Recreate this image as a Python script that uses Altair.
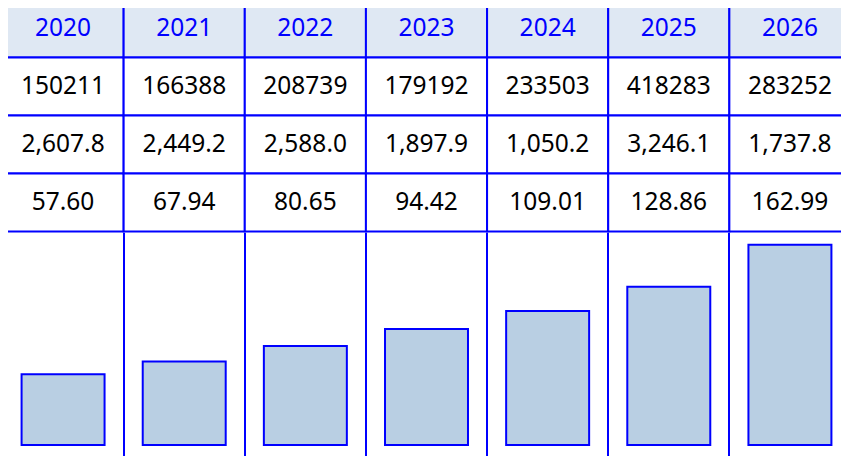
import altair as alt
import pandas as pd

years = ["2020", "2021", "2022", "2023", "2024", "2025", "2026"]
counts = [150211, 166388, 208739, 179192, 233503, 418283, 283252]
amounts = [2607.8, 2449.2, 2588.0, 1897.9, 1050.2, 3246.1, 1737.8]
prices = [57.60, 67.94, 80.65, 94.42, 109.01, 128.86, 162.99]

BLUE = "#0000ff"
FONT = "Noto Sans"
W = 848

rows = ["head", "r1", "r2", "r3"]
cells = []
for i, yr in enumerate(years):
    cells.append({"year": yr, "row": "head", "kind": "head", "label": yr})
    cells.append({"year": yr, "row": "r1", "kind": "body", "label": f"{counts[i]}"})
    cells.append({"year": yr, "row": "r2", "kind": "body", "label": f"{amounts[i]:,.1f}"})
    cells.append({"year": yr, "row": "r3", "kind": "body", "label": f"{prices[i]:.2f}"})
table_df = pd.DataFrame(cells)
bars_df = pd.DataFrame({"year": years, "price": prices})

x_enc = alt.X("year:N", sort=years, scale=alt.Scale(paddingInner=0, paddingOuter=0), axis=None)
y_enc = alt.Y("row:N", sort=rows, scale=alt.Scale(paddingInner=0, paddingOuter=0), axis=None)

base = alt.Chart(table_df).encode(x=x_enc, y=y_enc)
cell_rects = base.mark_rect(stroke=BLUE, strokeWidth=2).encode(
    fill=alt.Fill("kind:N", scale=alt.Scale(domain=["head", "body"], range=["#dfe8f3", "white"]), legend=None)
)
head_text = base.mark_text(font=FONT, fontSize=24.5, color=BLUE).transform_filter(alt.datum.kind == "head").encode(text="label:N")
body_text = base.mark_text(font=FONT, fontSize=24.5, color="black").transform_filter(alt.datum.kind == "body").encode(text="label:N")
table = (cell_rects + head_text + body_text).properties(width=W, height=232)

bars = (
    alt.Chart(bars_df)
    .mark_bar(fill="#b9cfe3", stroke=BLUE, strokeWidth=2, width=alt.RelativeBandSize(0.685))
    .encode(
        x=alt.X(
            "year:N",
            sort=years,
            scale=alt.Scale(paddingInner=0, paddingOuter=0),
            axis=alt.Axis(grid=True, gridColor=BLUE, gridWidth=2, gridOpacity=1, bandPosition=0,
                          labels=False, ticks=False, domain=False, title=None),
        ),
        y=alt.Y("price:Q", scale=alt.Scale(domain=[-12.6, 172.9], nice=False, zero=False), axis=None),
    )
    .properties(width=W, height=228)
)

chart = (
    alt.vconcat(table, bars, spacing=0)
    .properties(padding={"left": -6.5, "top": -9.5, "right": -10.5, "bottom": 0})
    .configure_view(stroke=None)
    .configure_axis(labelFont=FONT)
)

chart.save("out.html", embed_options={"renderer": "svg", "actions": False})
